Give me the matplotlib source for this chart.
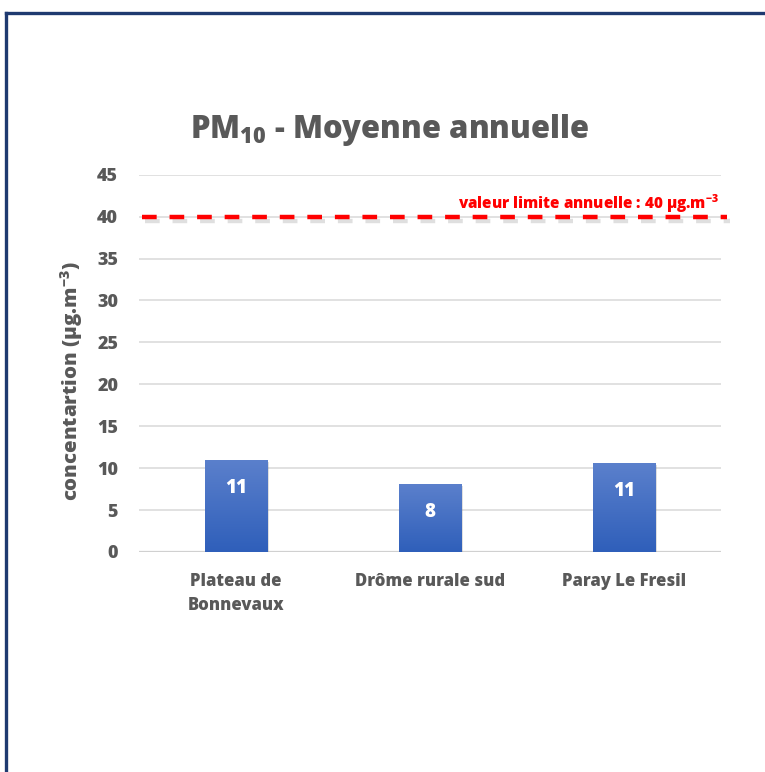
import matplotlib
matplotlib.use("Agg")
import matplotlib.pyplot as plt
import numpy as np
from matplotlib import patheffects as pe
from matplotlib.lines import Line2D
from matplotlib.colors import LinearSegmentedColormap

FONT = 'Open Sans'
WT = 'heavy'
plt.rcParams['font.family'] = [FONT, 'DejaVu Sans']
plt.rcParams['mathtext.fontset'] = 'custom'
plt.rcParams['mathtext.rm'] = FONT + ':heavy'
plt.rcParams['mathtext.bf'] = FONT + ':heavy'
plt.rcParams['mathtext.it'] = FONT + ':heavy'

categories = ["Plateau de\nBonnevaux", "Drôme rurale sud", "Paray Le Fresil"]
values = [11.0, 8.1, 10.6]
labels = ["11", "8", "11"]
limit_value = 40
yticks = [0, 5, 10, 15, 20, 25, 30, 35, 40, 45]

W, H = 765, 772
fig = plt.figure(figsize=(W/100, H/100), dpi=100)
fig.patch.set_facecolor('white')

navy = '#1F3A70'
fig.add_artist(Line2D([6/W, 6/W], [0, 1-13/H], color=navy, lw=2.4, transform=fig.transFigure))
fig.add_artist(Line2D([6/W, 1], [1-13/H, 1-13/H], color=navy, lw=2.4, transform=fig.transFigure))

ax = fig.add_axes([139/W, 1-552/H, (721-139)/W, (552-174.7)/H])
for s in ax.spines.values():
    s.set_visible(False)
ax.set_yticks(yticks)
ax.yaxis.grid(True, color='#D9D9D9', lw=1.1)
ax.set_axisbelow(True)
ax.axhline(0, color='#D0D0D0', lw=1.6, zorder=1)
ax.tick_params(axis='both', length=0, labelcolor='#595959')
ax.tick_params(axis='y', pad=15, labelsize=13)
ax.tick_params(axis='x', pad=15)
for t in ax.get_yticklabels():
    t.set_fontweight(WT)
x = np.arange(len(categories))
ax.set_xticks(x)
ax.set_xticklabels(categories, fontweight=WT, fontsize=12, color='#595959', linespacing=1.55)

width = 0.32
bars = ax.bar(x, values, width=width, color='#4472C4', zorder=2,
              path_effects=[pe.SimplePatchShadow(offset=(1.5, -1.5), alpha=0.25, shadow_rgbFace='gray'), pe.Normal()])
grad = np.linspace(0, 1, 256).reshape(-1, 1)
cmap = LinearSegmentedColormap.from_list('g', ['#2F5FBA', '#5B80CC'])
for b in bars:
    x0, y0 = b.get_x(), b.get_y()
    im = ax.imshow(grad, extent=[x0, x0 + b.get_width(), y0, y0 + b.get_height()],
                   origin='lower', cmap=cmap, aspect='auto', zorder=3)
    im.set_clip_path(b)
ax.set_xlim(-0.5, 2.5)
ax.set_ylim(0, 45)

for xi, v, lab in zip(x, values, labels):
    ax.text(xi, v - 3.35, lab, ha='center', va='center', color='white',
            fontsize=13.5, fontweight=WT, zorder=4)

ax.plot([-0.485, 2.53], [limit_value, limit_value], color='#FF0000', lw=3.2,
        dashes=(3.3, 2.9), clip_on=False, zorder=4,
        path_effects=[pe.SimpleLineShadow(offset=(2, -3), alpha=0.25, shadow_color='gray'), pe.Normal()])
ax.text(2.49, 41.6, "valeur limite annuelle : 40 µg.m$^{-3}$", ha='right', va='center',
        color='#FF0000', fontsize=11, fontweight=WT)

ax.set_ylabel("concentartion (µg.m$^{-3}$)", fontsize=14.7, fontweight=WT, color='#595959')
ax.yaxis.set_label_coords(-0.093, 0.452)

fig.text(390/W, 1-130/H, "PM$_{10}$ - Moyenne annuelle", ha='center', va='center',
         fontsize=22.3, fontweight=WT, color='#595959')

fig.savefig('out.png', dpi=100, facecolor='white')
